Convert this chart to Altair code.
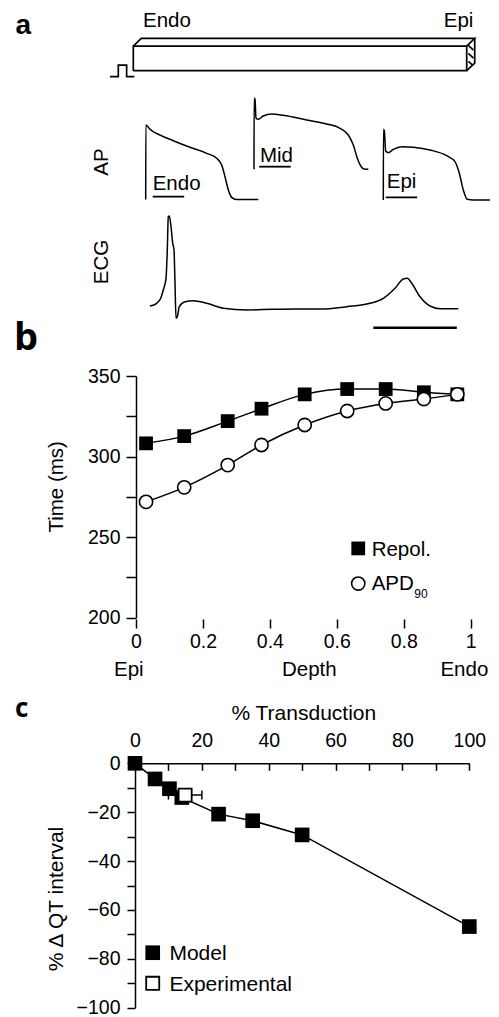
import altair as alt
import pandas as pd

FONT = "Liberation Sans"
LETTER_FONT = "Open Sans"
TITLE_FS = 20.5
TICK_FS = 19.5
LW = 1.5

# ---------------- Panel a : action potentials (ms from upstroke, mV) ----------------
ENDO_T = [0, 0.5, 5.1, 13.7, 45.4, 87.6, 140.7, 193.7, 225.4, 241.3, 251.8, 262.3, 273.1, 288.9, 357.5]
ENDO_V = [-85, 34.2, 32.6, 27.3, 18.2, 9.1, -1.5, -11.1, -19.1, -29.8, -48.5, -69.8, -81.5, -85, -85]
MID_T = [0, 0.5, 3.2, 6.4, 13.7, 29.5, 56.2, 93.0, 167.3, 230.8, 273.1, 299.4, 315.3, 328.0, 338.8, 349.3, 362.9]
MID_V = [-85, 28.6, 27, -3.4, -5, 0.3, 3.5, 1.4, -6.1, -12.5, -19.4, -30.1, -46.1, -67.4, -79.7, -84.5, -85]
EPI_T = [0, 0.5, 3.2, 7.6, 15.9, 31.8, 58.4, 95.3, 148.2, 201.3, 227.6, 241.3, 254.0, 266.7, 285.8, 338.8]
EPI_V = [-85, 28.1, 25.9, -6.6, -9.3, -3.9, 0.3, -0.7, -5, -14.1, -23.7, -42.3, -69, -83.9, -85, -85]
AP_NAMES = ["Endo", "Mid", "Epi"]
AP_BAR_START = [22.2, 16.5, 7.6]      # ms
AP_BAR_MS = 100                       # ms scale bar
AP_BAR_V = [-80.5, -80.8, -80.7]
AP_LABEL_T = [22.2, 19.0, 10.8]
AP_LABEL_V = [-69.8, -72.8, -66.3]

# ---------------- Panel a : pseudo-ECG (ms, mV) ----------------
ECG_T = [0, 21.3, 34.0, 42.2, 50.8, 54.9, 58.1, 61.3, 66.7, 72.1, 76.2, 79.4, 82.6, 86.7, 93.0,
         111.1, 137.5, 180.0, 232.7, 307.0, 391.5, 465.8, 539.8, 624.5, 698.5, 740.7, 777.9,
         804.2, 816.9, 830.9, 857.3, 889.0, 920.8, 978.9]
ECG_V = [0.06, 0.114, 0.214, 0.38, 0.614, 1.18, 1.846, 1.86, 1.646, 1.314, 1.18, 0.514, -0.186,
         -0.154, 0.046, 0.146, 0.166, 0.114, 0.014, -0.02, -0.006, 0, 0, 0.046, 0.114, 0.214,
         0.414, 0.6, 0.614, 0.514, 0.246, 0.06, 0.006, 0.006]
ECG_BAR = [709, 974, -0.374]

# ---------------- Panel a : strand schematic (strand-length units) ----------------
CABLE_PATHS = {
    "front": [(0, 0), (100, 0), (100, 7.4), (0, 7.4), (0, 0)],
    "top": [(0, 7.4), (2.4, 9.7), (102.4, 9.7), (100, 7.4)],
    "side": [(102.4, 9.7), (102.4, 2.3), (100, 0)],
    "h1": [(100.5, 7.6), (102.0, 6.2)],
    "h2": [(100.5, 5.2), (102.0, 3.8)],
    "h3": [(100.5, 2.8), (101.6, 1.8)],
    "stim": [(-7.0, -1.8), (-4.5, -1.8), (-4.5, 1.7), (-2.0, 1.7), (-2.0, -1.8), (0.3, -1.8)],
}

# ---------------- Panel b ----------------
DEPTH = [0.03, 0.144, 0.274, 0.375, 0.504, 0.631, 0.746, 0.86, 0.96]
REPOL = [308.2, 312.7, 322.0, 329.7, 338.6, 341.9, 341.9, 339.9, 338.6]
APD90 = [271.9, 280.9, 294.7, 307.2, 319.6, 328.3, 333.0, 335.7, 338.6]
B_YTICKS = [200, 225, 250, 275, 300, 325, 350]
B_XTICKS = [0, 0.2, 0.4, 0.6, 0.8, 1]

# ---------------- Panel c ----------------
TRANSDUCTION = [0, 6, 10.3, 14, 25, 35.2, 50, 100]
DQT_MODEL = [0, -6.4, -10.4, -14, -20.8, -23.5, -29.3, -66.8]
EXP_TRANSDUCTION = [15]
EXP_ERR = [5]
EXP_DQT = [-13]
C_YTICKS = [-100, -90, -80, -70, -60, -50, -40, -30, -20, -10, 0]
C_XLABELS = [0, 20, 40, 60, 80, 100]
C_XTICKS = [0, 10, 20, 30, 40, 50, 60, 70, 80, 90, 100]

# ---------------- layout: domain -> pixel range for each sub-figure ----------------
W, H = 483, 1009
SYS = {
    "cable": ([0, 100], [125.3, 458.7], [0, 10], [62.7, 29.37]),
    "endo": ([0, 1000], [137.7, 452.7], [-85, 40], [191.5, 113.375]),
    "mid": ([0, 1000], [246.0, 561.0], [-85, 40], [161.3, 83.175]),
    "epi": ([0, 1000], [375.3, 690.3], [-85, 40], [192.0, 113.875]),
    "ecg": ([0, 1000], [142.0, 457.0], [0, 2], [301.0, 201.0]),
    "b": ([0, 1], [128.0, 462.7], [200, 350], [609.7, 368.0]),
    "c": ([0, 100], [127.0, 461.3], [-100, 0], [999.7, 755.3]),
}
B_XAXIS_Y = 611.0
C_XAXIS_Y = 755.3


def xy(sys, xf="x", yf="y", xaxis=None, yaxis=None):
    xd, xr, yd, yr = SYS[sys]
    return {
        "x": alt.X(f"{xf}:Q", scale=alt.Scale(domain=xd, range=xr, nice=False, zero=False), axis=xaxis),
        "y": alt.Y(f"{yf}:Q", scale=alt.Scale(domain=yd, range=yr, nice=False, zero=False), axis=yaxis),
    }


def line_layer(sys, xs, ys, interpolate="monotone", width=LW, **kw):
    df = pd.DataFrame({"x": xs, "y": ys, "i": list(range(len(xs)))})
    return alt.Chart(df).mark_line(color="black", strokeWidth=width, interpolate=interpolate).encode(
        order="i:Q", **xy(sys, **kw))


def text_layer(sys, rows, **mark):
    df = pd.DataFrame(rows, columns=["x", "y", "label"])
    props = dict(font=FONT, fontSize=TITLE_FS, color="black", align="left", baseline="alphabetic")
    props.update(mark)
    return alt.Chart(df).mark_text(**props).encode(text="label:N", **xy(sys))


def axis_common(**kw):
    base = dict(tickColor="black", tickWidth=1.5, domainColor="black", domainWidth=1.5,
                labelFont=FONT, labelFontSize=TICK_FS, labelColor="black", labelOverlap=False,
                labelFlush=False, grid=False, title="")
    base.update(kw)
    return alt.Axis(**base)


layers = []

# ---- panel a: schematic strand ----
rows = []
for name, pts in CABLE_PATHS.items():
    for i, (px, py) in enumerate(pts):
        rows.append({"x": px, "y": py, "seg": name, "i": i})
cable_df = pd.DataFrame(rows)
layers.append(alt.Chart(cable_df).mark_line(color="black", strokeWidth=1.7, interpolate="linear").encode(
    detail="seg:N", order="i:Q", **xy("cable")))
layers.append(text_layer("cable", [(2.9, 13.0, "Endo")]))
layers.append(text_layer("cable", [(102.0, 13.0, "Epi")], align="right"))
layers.append(text_layer("cable", [(-35.3, 11.1, "a")], font="Liberation Sans", fontWeight="bold", fontSize=28))

# ---- panel a: action potentials ----
for k, (sys, ts, vs) in enumerate([("endo", ENDO_T, ENDO_V), ("mid", MID_T, MID_V), ("epi", EPI_T, EPI_V)]):
    layers.append(line_layer(sys, ts, vs))
    bar_df = pd.DataFrame({"x": [AP_BAR_START[k]], "x2": [AP_BAR_START[k] + AP_BAR_MS], "y": [AP_BAR_V[k]]})
    layers.append(alt.Chart(bar_df).mark_rule(color="black", strokeWidth=1.8).encode(
        x2="x2:Q", **xy(sys)))
    layers.append(text_layer(sys, [(AP_LABEL_T[k], AP_LABEL_V[k], AP_NAMES[k])]))
layers.append(text_layer("endo", [(-138.7, -25, "AP")], angle=270, align="center", baseline="middle"))

# ---- panel a: ECG ----
layers.append(line_layer("ecg", ECG_T, ECG_V))
ecg_bar = pd.DataFrame({"x": [ECG_BAR[0]], "x2": [ECG_BAR[1]], "y": [ECG_BAR[2]]})
layers.append(alt.Chart(ecg_bar).mark_rule(color="black", strokeWidth=2.5).encode(x2="x2:Q", **xy("ecg")))
layers.append(text_layer("ecg", [(-152.4, 0.94, "ECG")], angle=270, align="center", baseline="middle"))

# ---- panel b ----
b_yaxis = axis_common(orient="left", offset=-128, values=B_YTICKS,
                      labelExpr="datum.value % 50 === 0 ? datum.label : ''",
                      tickSize=10, labelPadding=6)
b_xaxis = axis_common(orient="bottom", offset=B_XAXIS_Y - H, values=B_XTICKS, format="~g", domain=False,
                      tickSize=9, labelPadding=4)
layers.append(line_layer("b", DEPTH, REPOL, yaxis=b_yaxis))
sq_df = pd.DataFrame({"x": DEPTH, "y": REPOL})
layers.append(alt.Chart(sq_df).mark_square(color="black", size=190, opacity=1).encode(**xy("b")))
layers.append(line_layer("b", DEPTH, APD90, xaxis=b_xaxis))
ci_df = pd.DataFrame({"x": DEPTH, "y": APD90})
layers.append(alt.Chart(ci_df).mark_circle(fill="white", stroke="black", strokeWidth=1.6, size=175, opacity=1)
              .encode(**xy("b")))
# legend b
layers.append(alt.Chart(pd.DataFrame({"x": [0.664], "y": [243.0]})).mark_square(
    color="black", size=190, opacity=1).encode(**xy("b")))
layers.append(alt.Chart(pd.DataFrame({"x": [0.664], "y": [221.2]})).mark_circle(
    fill="white", stroke="black", strokeWidth=1.6, size=175, opacity=1).encode(**xy("b")))
layers.append(text_layer("b", [(0.704, 238.2, "Repol."), (0.704, 217.1, "APD")]))
layers.append(text_layer("b", [(0.8315, 212.3, "90")], fontSize=12))
layers.append(text_layer("b", [(-0.235, 281.2, "Time (ms)")], angle=270, align="center", baseline="middle"))
layers.append(text_layer("b", [(-0.0215, 163.9, "Epi"), (0.518, 163.9, "Depth"), (0.981, 163.9, "Endo")],
                         align="center"))
layers.append(text_layer("b", [(-0.3645, 366.1, "b")], font=LETTER_FONT, fontWeight="bold", fontSize=38))

# ---- panel c ----
c_yaxis = axis_common(orient="left", offset=-127, values=C_YTICKS,
                      labelExpr="datum.value % 20 === 0 ? datum.label : ''",
                      tickSize=8, labelPadding=7)
c_xaxis_top = axis_common(orient="top", offset=-C_XAXIS_Y, values=C_XLABELS, ticks=False, tickSize=0,
                          labelPadding=13)
c_xaxis_ticks = axis_common(orient="bottom", offset=C_XAXIS_Y - H, values=C_XTICKS, labels=False,
                            domain=False, tickSize=7)
layers.append(line_layer("c", TRANSDUCTION, DQT_MODEL, interpolate="linear", yaxis=c_yaxis))
m_df = pd.DataFrame({"x": TRANSDUCTION, "y": DQT_MODEL})
layers.append(alt.Chart(m_df).mark_square(color="black", size=215, opacity=1).encode(
    **xy("c", xaxis=c_xaxis_top)))
err_df = pd.DataFrame({"x": [EXP_TRANSDUCTION[0] - EXP_ERR[0]], "x2": [EXP_TRANSDUCTION[0] + EXP_ERR[0]],
                       "y": [EXP_DQT[0]]})
layers.append(alt.Chart(err_df).mark_rule(color="black", strokeWidth=1.5).encode(
    x2="x2:Q", **xy("c", xaxis=c_xaxis_ticks)))
cap_df = pd.DataFrame({"x": [EXP_TRANSDUCTION[0] - EXP_ERR[0], EXP_TRANSDUCTION[0] + EXP_ERR[0]],
                       "y": [EXP_DQT[0], EXP_DQT[0]]})
layers.append(alt.Chart(cap_df).mark_tick(color="black", orient="vertical", size=9, thickness=1.5, opacity=1)
              .encode(**xy("c")))
e_df = pd.DataFrame({"x": EXP_TRANSDUCTION, "y": EXP_DQT})
layers.append(alt.Chart(e_df).mark_square(fill="white", stroke="black", strokeWidth=1.8, size=170, opacity=1)
              .encode(**xy("c")))
# legend c
layers.append(alt.Chart(pd.DataFrame({"x": [5.3], "y": [-77.5]})).mark_square(
    color="black", size=215, opacity=1).encode(**xy("c")))
layers.append(alt.Chart(pd.DataFrame({"x": [5.3], "y": [-90.0]})).mark_square(
    fill="white", stroke="black", strokeWidth=1.8, size=170, opacity=1).encode(**xy("c")))
layers.append(text_layer("c", [(10.3, -80.5, "Model"), (10.3, -93.0, "Experimental")], fontSize=21))
layers.append(text_layer("c", [(50.5, 17.7, "% Transduction")], align="center", fontSize=21))
layers.append(text_layer("c", [(-23.2, -55.5, "% \u0394 QT interval")], angle=270, align="center",
                         baseline="middle", fontSize=21))
layers.append(text_layer("c", [(-35.9, 19.1, "c")], font=LETTER_FONT, fontWeight="bold", fontSize=26))

chart = (
    alt.layer(*layers)
    .resolve_scale(x="independent", y="independent")
    .properties(width=W, height=H, padding=0, autosize=alt.AutoSizeParams(type="none"))
    .configure_view(strokeWidth=0)
)

chart.save("out.html", embed_options={"renderer": "svg", "actions": False})
